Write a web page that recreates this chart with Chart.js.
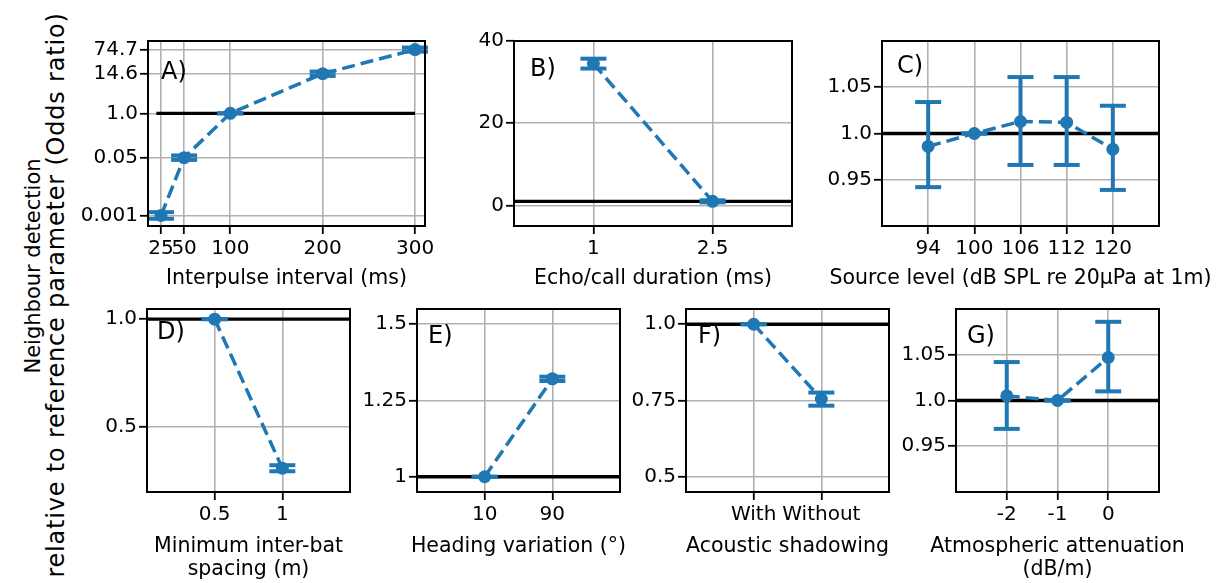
<!DOCTYPE html>
<html><head><meta charset="utf-8">
<script src="https://cdn.jsdelivr.net/npm/chart.js@4.4.1/dist/chart.umd.min.js"></script>
<style>
html,body{margin:0;padding:0;background:#fff;overflow:hidden;width:1223px;height:583px;}
canvas{position:absolute;}
.yl{position:absolute;font-family:'DejaVu Sans';color:#000;white-space:nowrap;transform:translate(-50%,-50%) rotate(-90deg);line-height:1;}
</style></head><body>
<div class="yl" style="left:33px;top:266px;font-size:21px">Neighbour detection</div>
<div class="yl" style="left:56px;top:295px;font-size:24px;letter-spacing:0.8px">relative to reference parameter (Odds ratio)</div>
<script>
// ---- Panel A: Interpulse interval ----
const ipiX = [25, 50, 100, 200, 300];
const ipiY = [0.001, 0.05, 1.0, 14.6, 74.7];
const ipiLo = [0.0008, 0.043, 1.0, 12.6, 65];
const ipiHi = [0.00125, 0.058, 1.0, 16.9, 86];
const ipiXTicks = [25, 50, 100, 200, 300];
const ipiXLabels = ['25', '50', '100', '200', '300'];
const ipiYTicks = [0.001, 0.05, 1.0, 14.6, 74.7];
const ipiYLabels = ['0.001', '0.05', '1.0', '14.6', '74.7'];

// ---- Panel B: Echo/call duration ----
const durX = [1, 2.5];
const durY = [34.5, 1.0];
const durLo = [33.3, 0.75];
const durHi = [35.7, 1.25];
const durXTicks = [1, 2.5];
const durXLabels = ['1', '2.5'];
const durYTicks = [0, 20, 40];
const durYLabels = ['0', '20', '40'];

// ---- Panel C: Source level ----
const slCategories = ['94', '100', '106', '112', '120'];
const slY = [0.986, 1.0, 1.013, 1.012, 0.983];
const slLo = [0.942, 1.0, 0.966, 0.966, 0.939];
const slHi = [1.034, 1.0, 1.061, 1.061, 1.030];
const slYTicks = [0.95, 1.0, 1.05];
const slYLabels = ['0.95', '1.0', '1.05'];

// ---- Panel D: Minimum inter-bat spacing ----
const spCategories = ['0.5', '1'];
const spY = [1.0, 0.31];
const spLo = [1.0, 0.296];
const spHi = [1.0, 0.324];
const spYTicks = [0.5, 1.0];
const spYLabels = ['0.5', '1.0'];

// ---- Panel E: Heading variation ----
const hvCategories = ['10', '90'];
const hvY = [1.0, 1.321];
const hvLo = [1.0, 1.314];
const hvHi = [1.0, 1.328];
const hvYTicks = [1, 1.25, 1.5];
const hvYLabels = ['1', '1.25', '1.5'];

// ---- Panel F: Acoustic shadowing ----
const shCategories = ['With', 'Without'];
const shY = [1.0, 0.755];
const shLo = [1.0, 0.733];
const shHi = [1.0, 0.776];
const shYTicks = [0.5, 0.75, 1.0];
const shYLabels = ['0.5', '0.75', '1.0'];

// ---- Panel G: Atmospheric attenuation ----
const atX = [-2, -1, 0];
const atY = [1.005, 1.0, 1.047];
const atLo = [0.969, 1.0, 1.010];
const atHi = [1.042, 1.0, 1.086];
const atXLabels = ['-2', '-1', '0'];
const atYTicks = [0.95, 1.0, 1.05];
const atYLabels = ['0.95', '1.0', '1.05'];

const BLUE = '#1f77b4';
const FONT = 'DejaVu Sans';

function makePanel(cfg) {
  const W = 90, H = 110, PT = 20, PR = 80;
  const cw = (cfg.r - cfg.l) + W + PR, ch = (cfg.b - cfg.t) + PT + H;
  const c = document.createElement('canvas');
  c.width = cw; c.height = ch;
  c.style.left = (cfg.l - W) + 'px';
  c.style.top = (cfg.t - PT) + 'px';
  document.body.appendChild(c);

  const grid = {color: '#b0b0b0', lineWidth: 1.6, tickColor: '#000', tickWidth: 1.8, tickLength: 8, drawTicks: true};

  const deco = {
    id: 'deco' + cfg.letter,
    beforeDatasetsDraw(chart) {
      const {ctx, chartArea: a, scales: {x, y}} = chart;
      ctx.save();
      ctx.beginPath(); ctx.rect(a.left, a.top, a.right - a.left, a.bottom - a.top); ctx.clip();
      const py = y.getPixelForValue(cfg.refY);
      const x0 = cfg.refFrom != null ? x.getPixelForValue(cfg.refFrom) : a.left;
      const x1 = cfg.refTo != null ? x.getPixelForValue(cfg.refTo) : a.right;
      ctx.strokeStyle = '#000'; ctx.lineWidth = 3.3;
      ctx.beginPath(); ctx.moveTo(x0, py); ctx.lineTo(x1, py); ctx.stroke();
      ctx.restore();
    },
    afterDatasetsDraw(chart) {
      const {ctx, chartArea: a, scales: {x, y}} = chart;
      ctx.save();
      ctx.strokeStyle = BLUE; ctx.lineWidth = 4; ctx.lineCap = 'butt';
      cfg.xs.forEach((xv, i) => {
        const px = x.getPixelForValue(xv);
        const pl = y.getPixelForValue(cfg.lo[i]);
        const ph = y.getPixelForValue(cfg.hi[i]);
        ctx.beginPath(); ctx.moveTo(px, pl); ctx.lineTo(px, ph); ctx.stroke();
        [pl, ph].forEach(pv => {
          ctx.beginPath(); ctx.moveTo(px - 13, pv); ctx.lineTo(px + 13, pv); ctx.stroke();
        });
      });
      ctx.strokeStyle = '#000'; ctx.lineWidth = 2;
      ctx.strokeRect(a.left, a.top, a.right - a.left, a.bottom - a.top);
      ctx.fillStyle = '#000';
      ctx.font = '24px "' + FONT + '"';
      ctx.textAlign = 'left'; ctx.textBaseline = 'middle';
      ctx.fillText(cfg.letter + ')', a.left + cfg.lx, a.top + cfg.ly);
      // x-axis title (drawn without width squeezing)
      ctx.font = '20.5px "' + FONT + '"';
      ctx.textAlign = 'center';
      const lines = Array.isArray(cfg.xTitle) ? cfg.xTitle : [cfg.xTitle];
      const cx = (a.left + a.right) / 2;
      lines.forEach((ln, k) => ctx.fillText(ln, cx, a.bottom + cfg.titleGap + k * 23));
      ctx.restore();
    }
  };

  new Chart(c, {
    type: 'line',
    data: {
      datasets: [{
        data: cfg.xs.map((xv, i) => ({x: xv, y: cfg.ys[i]})),
        borderColor: BLUE, borderWidth: 3.5, borderDash: [13, 6],
        pointRadius: 6.5, pointHoverRadius: 6.5, pointBackgroundColor: BLUE,
        pointBorderWidth: 0, tension: 0, fill: false
      }]
    },
    options: {
      responsive: false, animation: false, events: [],
      layout: {padding: {left: 0, top: PT, right: PR, bottom: 0}},
      plugins: {legend: {display: false}, tooltip: {enabled: false}},
      scales: {
        x: {
          type: 'linear', position: 'bottom', min: cfg.xMin, max: cfg.xMax,
          grid: grid, border: {display: false},
          afterBuildTicks: s => { s.ticks = cfg.xTicks.map(v => ({value: v})); },
          afterFit: s => { s.height = H; },
          ticks: {autoSkip: false, maxRotation: 0, minRotation: 0, padding: 3, color: '#000',
                  font: {family: FONT, size: 20}, callback: (v, i) => cfg.xLabels[i]}
        },
        y: {
          type: cfg.yType || 'linear', position: 'left', min: cfg.yMin, max: cfg.yMax,
          grid: grid, border: {display: false},
          afterBuildTicks: s => { s.ticks = cfg.yTicks.map(v => ({value: v})); },
          afterFit: s => { s.width = W; },
          ticks: {autoSkip: false, padding: 2, color: '#000',
                  font: {family: FONT, size: 20}, callback: (v, i) => cfg.yLabels[i]}
        }
      }
    },
    plugins: [deco]
  });
}

const idx = arr => arr.map((_, i) => i);
const halfPos = arr => arr.map((_, i) => 0.5 * (i + 1));

makePanel({letter: 'A', l: 148, t: 41, r: 425, b: 226, titleGap: 52.5, lx: 13, ly: 32,
  xs: ipiX, ys: ipiY, lo: ipiLo, hi: ipiHi, xMin: 10.9, xMax: 310.8,
  xTicks: ipiXTicks, xLabels: ipiXLabels, yType: 'logarithmic', yMin: 0.00049, yMax: 133.7,
  yTicks: ipiYTicks, yLabels: ipiYLabels, refY: 1, refFrom: 20, refTo: 300,
  xTitle: 'Interpulse interval (ms)'});

makePanel({letter: 'B', l: 514, t: 41, r: 792, b: 226, titleGap: 52.5, lx: 16, ly: 29,
  xs: durX, ys: durY, lo: durLo, hi: durHi, xMin: 0, xMax: 3.5,
  xTicks: durXTicks, xLabels: durXLabels, yMin: -5, yMax: 40,
  yTicks: durYTicks, yLabels: durYLabels, refY: 1,
  xTitle: 'Echo/call duration (ms)'});

makePanel({letter: 'C', l: 882, t: 41, r: 1159, b: 226, titleGap: 52.5, lx: 15, ly: 26,
  xs: idx(slCategories), ys: slY, lo: slLo, hi: slHi, xMin: -1, xMax: 5,
  xTicks: idx(slCategories), xLabels: slCategories, yMin: 0.9, yMax: 1.1,
  yTicks: slYTicks, yLabels: slYLabels, refY: 1,
  xTitle: 'Source level (dB SPL re 20\u03bcPa at 1m)'});

makePanel({letter: 'D', l: 147, t: 309, r: 350, b: 492, titleGap: 54.5, lx: 10, ly: 24,
  xs: halfPos(spCategories), ys: spY, lo: spLo, hi: spHi, xMin: 0, xMax: 1.5,
  xTicks: halfPos(spCategories), xLabels: spCategories, yMin: 0.2, yMax: 1.047,
  yTicks: spYTicks, yLabels: spYLabels, refY: 1,
  xTitle: ['Minimum inter-bat', 'spacing (m)']});

makePanel({letter: 'E', l: 417, t: 309, r: 620, b: 492, titleGap: 54.5, lx: 11, ly: 28,
  xs: halfPos(hvCategories), ys: hvY, lo: hvLo, hi: hvHi, xMin: 0, xMax: 1.5,
  xTicks: halfPos(hvCategories), xLabels: hvCategories, yMin: 0.95, yMax: 1.55,
  yTicks: hvYTicks, yLabels: hvYLabels, refY: 1,
  xTitle: 'Heading variation (\u00b0)'});

makePanel({letter: 'F', l: 686, t: 309, r: 889, b: 492, titleGap: 54.5, lx: 12, ly: 28,
  xs: halfPos(shCategories), ys: shY, lo: shLo, hi: shHi, xMin: 0, xMax: 1.5,
  xTicks: halfPos(shCategories), xLabels: shCategories, yMin: 0.45, yMax: 1.05,
  yTicks: shYTicks, yLabels: shYLabels, refY: 1,
  xTitle: 'Acoustic shadowing'});

makePanel({letter: 'G', l: 956, t: 309, r: 1159, b: 492, titleGap: 54.5, lx: 11, ly: 28,
  xs: atX, ys: atY, lo: atLo, hi: atHi, xMin: -3, xMax: 1,
  xTicks: atX, xLabels: atXLabels, yMin: 0.9, yMax: 1.1,
  yTicks: atYTicks, yLabels: atYLabels, refY: 1,
  xTitle: ['Atmospheric attenuation', '(dB/m)']});
</script>
</body></html>
